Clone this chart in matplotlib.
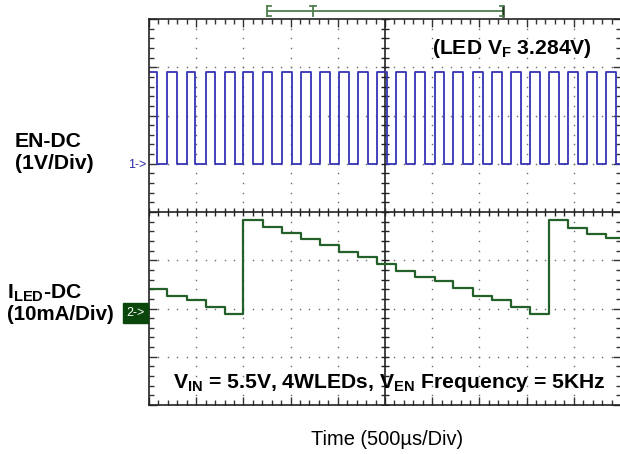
#!/usr/bin/env python3
"""Scope capture: EN PWM (ch1) and LED current (ch2) at 5 kHz."""

import numpy as np
import matplotlib
matplotlib.use("Agg")
import matplotlib.pyplot as plt

plt.rcParams["font.family"] = ["Liberation Sans", "DejaVu Sans"]
plt.rcParams["mathtext.fontset"] = "custom"
plt.rcParams["mathtext.rm"] = "Liberation Sans"
plt.rcParams["mathtext.bf"] = "Liberation Sans:bold"

# ----------------------- data (in divisions) --------------------
en_low = 1.0
en_high = 2.9
en_rise = [0.375, 0.80, 1.21, 1.61, 2.00, 2.41, 2.81, 3.22, 3.62, 4.03, 4.43, 4.84,
           5.24, 5.64, 6.05, 6.45, 6.86, 7.26, 7.67, 8.07, 8.48, 8.88, 9.29, 9.69]
en_fall = [0.17, 0.59, 0.98, 1.40, 1.82, 2.21, 2.61, 3.02, 3.43, 3.83, 4.24, 4.65,
           5.04, 5.45, 5.85, 6.26, 6.66, 7.07, 7.47, 7.88, 8.28, 8.69, 9.09, 9.50, 9.90]

led_t = [0.0, 0.375, 0.80, 1.21, 1.61, 2.00, 2.41, 2.81, 3.22, 3.62, 4.03, 4.43, 4.84,
         5.24, 5.64, 6.05, 6.45, 6.86, 7.26, 7.67, 8.07, 8.48, 8.88, 9.29, 9.69]
led_v = [-1.59, -1.75, -1.83, -1.97, -2.11, -0.17, -0.31, -0.43, -0.56, -0.69, -0.83,
         -0.93, -1.07, -1.23, -1.35, -1.44, -1.57, -1.75, -1.83, -1.97, -2.11,
         -0.17, -0.33, -0.45, -0.54]

W, H = 620, 454


def fx(px):
    return px / W


def fy(py):
    return 1 - py / H


fig = plt.figure(figsize=(6.2, 4.54), dpi=100)
# 10 x 8 divisions, right edge runs off the picture
ax = fig.add_axes([fx(149), fy(405), 472 / W, 386 / H])
ax.set_xlim(0, 10)
ax.set_ylim(-4, 4)

for side in ["left", "top", "bottom", "right"]:
    ax.spines[side].set_color("#222222")
    ax.spines[side].set_linewidth(1.2)

ax.set_xticks(np.arange(0, 11, 1))
ax.set_yticks(np.arange(-4, 5, 1))
ax.set_xticks(np.arange(0, 10.01, 0.2), minor=True)
ax.set_yticks(np.arange(-4, 4.01, 0.2), minor=True)
ax.tick_params(which="both", direction="in", top=True, right=True,
               labelbottom=False, labelleft=False, color="#333333", width=1.0)
ax.tick_params(which="major", length=6)
ax.tick_params(which="minor", length=3.5)

# dotted graticule
dot_style = dict(linestyle="none", marker="s", ms=1.0, color="#6a6a6a", mew=0)
ys = np.arange(-4, 4.01, 0.2)
xs = np.arange(0, 10.01, 0.2)
for gx in range(1, 10):
    if gx != 5:
        ax.plot(np.full_like(ys, gx), ys, **dot_style)
for gy in range(-3, 4):
    if gy != 0:
        ax.plot(xs, np.full_like(xs, gy), **dot_style)

# centre cross with small ticks
ax.axhline(0, color="#222222", lw=1.2)
ax.axvline(5, color="#222222", lw=1.2)
ax.plot(xs, np.zeros_like(xs), linestyle="none", marker="|", ms=6, mew=1.0, color="#222222")
ax.plot(np.full_like(ys, 5), ys, linestyle="none", marker="_", ms=6, mew=1.0, color="#222222")

# channel 1: EN square wave
t1 = [0.0]
v1 = [en_high]
for i, f in enumerate(en_fall):
    t1.append(f)
    v1.append(en_low)
    if i < len(en_rise):
        t1.append(en_rise[i])
        v1.append(en_high)
t1.append(10.0)
v1.append(v1[-1])
ax.plot(t1, v1, drawstyle="steps-post", color="#3434b4", lw=1.3)

# channel 2: LED current
ax.plot(led_t + [10.0], led_v + [led_v[-1]], drawstyle="steps-post",
        color="#24602a", lw=1.6)

# channel markers
fig.text(fx(137), fy(165), "1->", color="#2a2aa8", fontsize=9,
         ha="center", va="center")
fig.text(fx(135.5), fy(313), "2->", color="white", fontsize=9, ha="center", va="center",
         bbox=dict(boxstyle="square,pad=0.3", fc="#0b460b", ec="#0b460b"))

# trigger bar above the screen
tb = dict(color="#4f7f4f", lw=1.3, clip_on=False)
ax.plot([2.5, 7.5], [4.17, 4.17], **tb)
ax.plot([2.5, 2.5], [4.07, 4.27], **tb)
ax.plot([2.5, 2.58], [4.27, 4.27], **tb)
ax.plot([2.5, 2.58], [4.07, 4.07], **tb)
ax.plot([7.5, 7.5], [4.07, 4.27], color="#1d3d1d", lw=1.8, clip_on=False)
ax.plot([7.44, 7.5], [4.27, 4.27], **tb)
ax.plot([7.44, 7.5], [4.07, 4.07], **tb)
ax.plot([3.48, 3.48], [4.07, 4.27], **tb)
ax.plot([3.42, 3.54], [4.27, 4.27], **tb)

# annotations
big = 15.2
fig.text(fx(432), fy(53.5), r"(LED V$_\mathbf{F}$ 3.284V)", fontsize=big,
         fontweight="bold", ha="left", va="baseline")
fig.text(fx(173), fy(387.5),
         r"V$_\mathbf{IN}$ = 5.5V, 4WLEDs, V$_\mathbf{EN}$ Frequency = 5KHz",
         fontsize=big, fontweight="bold", ha="left", va="baseline")
fig.text(fx(387.5), fy(445), "Time (500\u00b5s/Div)", fontsize=14.4,
         ha="center", va="baseline")

fig.text(fx(15), fy(146.7), "EN-DC", fontsize=big, fontweight="bold", va="baseline")
fig.text(fx(15), fy(169.3), "(1V/Div)", fontsize=big, fontweight="bold", va="baseline")
fig.text(fx(7), fy(298), r"I$_\mathbf{LED}$-DC", fontsize=big, fontweight="bold",
         va="baseline")
fig.text(fx(7), fy(319.5), "(10mA/Div)", fontsize=14.8, fontweight="bold", va="baseline")

fig.savefig("out.png", dpi=100)
